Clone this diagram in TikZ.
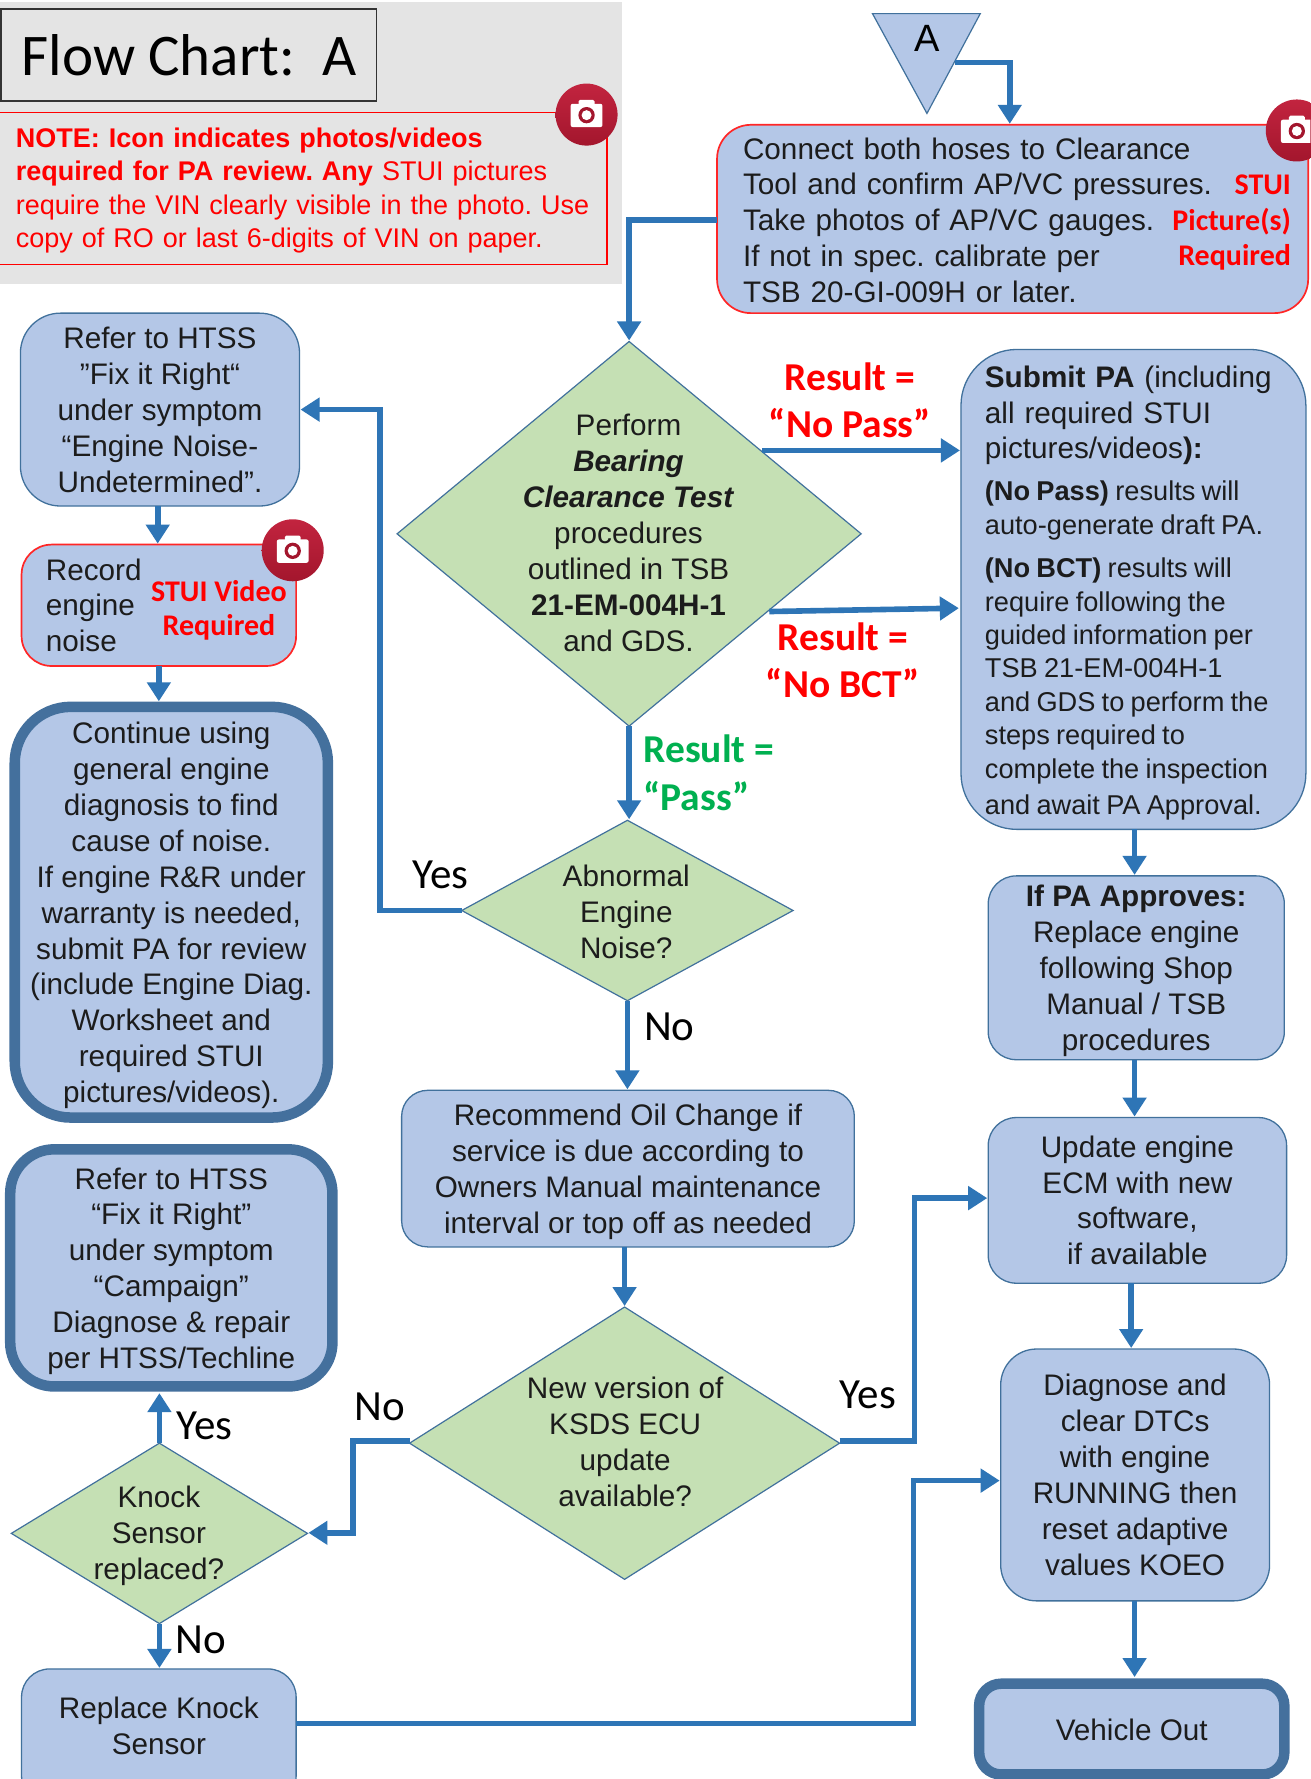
\documentclass[tikz,border=0pt]{standalone}
\usepackage{fontspec}
\setmainfont{Liberation Sans}
\newfontfamily\calib{Carlito}
\usetikzlibrary{arrows.meta,shapes.geometric,calc}
\definecolor{boxfill}{HTML}{B4C7E7}
\definecolor{boxedge}{HTML}{41719C}
\definecolor{diafill}{HTML}{C5E0B4}
\definecolor{thickedge}{HTML}{44709D}
\definecolor{conn}{HTML}{2E75B6}
\definecolor{redtxt}{HTML}{FF0000}
\definecolor{greentxt}{HTML}{00B050}
\definecolor{greybg}{HTML}{E4E4E4}
\definecolor{camtop}{HTML}{C2243F}
\definecolor{cambot}{HTML}{A3162D}
\definecolor{inktxt}{HTML}{1C1C1C}
\newdimen\uu \uu=1.1342pt
\newcommand\bodyf{\frenchspacing\fontsize{29.7}{35.9}\selectfont}
\newcommand\smallf{\frenchspacing\fontsize{27.2}{33.4}\selectfont\spaceskip=0.23em}
\newcommand\notef{\frenchspacing\fontsize{27}{33.2}\selectfont}
\newcommand\nudge{\rule{0pt}{28pt}}
\newcommand\nudgelow{\rule{0pt}{24pt}}
\tikzset{
  x=1.1342pt,y=-1.1342pt,
  box/.style={draw=boxedge,line width=1.3pt,fill=boxfill,inner sep=0pt,outer sep=0pt,align=center,font=\bodyf,text=inktxt,rounded corners=#1},
  box/.default=28pt,
  redbox/.style={box=#1,draw=redtxt!85!white,line width=1.7pt},
  heavybox/.style={box=#1,draw=thickedge,line width=10.5pt},
  dia/.style={diamond,draw=boxedge,line width=1.2pt,fill=diafill,inner sep=0pt,outer sep=0pt},
  body/.style={inner sep=0pt,align=center,font=\bodyf,text=inktxt},
  arr/.style={draw=conn,line width=5.6pt,-{Triangle[width=23pt,length=19pt]},shorten >=1pt},
  redlab/.style={inner sep=0pt,font=\calib\bfseries\fontsize{39.5}{47.5}\selectfont,text=redtxt,align=center},
  greenlab/.style={inner sep=0pt,font=\calib\bfseries\fontsize{39.5}{47.5}\selectfont,text=greentxt,align=left},
  reqlab/.style={inner sep=0pt,font=\calib\bfseries\fontsize{30}{35.8}\selectfont,text=redtxt},
  yn/.style={inner sep=0pt,font=\calib\fontsize{43}{48}\selectfont,text=black},
  camdisc/.style={circle,minimum size=62pt,inner sep=0pt,top color=camtop,bottom color=cambot},
}
% #1 style, #2 name, #3 x1, #4 y1, #5 x2, #6 y2, #7 text
\newcommand\bx[7]{\node[#1,minimum width={(#5-#3)*\uu},minimum height={(#6-#4)*\uu}] (#2) at ({(#3+#5)/2},{(#4+#6)/2}) {#7};}
% #1 name, #2 x, #3 y
\newcommand\cam[3]{%
  \node[camdisc] (#1) at (#2,#3) {};
  \begin{scope}[shift={(#2,#3)}]
    \fill[white,rounded corners=2pt] (-14,-9.5) rectangle (14,11);
    \fill[white,rounded corners=1.5pt] (-7,-13) rectangle (7,-8);
    \fill[cambot] (0,0.5) circle[radius=7.2];
    \fill[white] (0,0.5) circle[radius=4.4];
  \end{scope}}
\begin{document}
\begin{tikzpicture}
\clip (0,0) rectangle (1155,1568);
\fill[white] (0,0) rectangle (1155,1568);
% header
\fill[greybg] (0,2) rectangle (548,250);
\bx{draw=black!80,line width=1.6pt,inner sep=0pt,outer sep=0pt,font=\calib\fontsize{59}{66}\selectfont,text=black}{title}{1}{8}{332}{89}{Flow Chart:\ \ A}
\bx{draw=redtxt,line width=1.6pt,inner sep=0pt,outer sep=0pt,align=left,text width=574pt,text=redtxt,font=\notef}{note}{-1}{99}{535}{233}{\nudgelow\textbf{NOTE: Icon indicates photos/videos}\\\textbf{required for PA review. Any} STUI pictures\\require the VIN clearly visible in the photo. Use\\copy of RO or last 6-digits of VIN on paper.}
\cam{camnote}{517}{101}
% start triangle
\coordinate (tl) at (769,12);
\coordinate (tr) at (864,12);
\coordinate (tb) at (817,100);
\coordinate (te) at (842,55);
\fill[boxfill,draw=boxedge,line width=1.2pt] (tl) -- (tr) -- (tb) -- cycle;
\node[inner sep=0pt,font=\fontsize{38}{40}\selectfont,text=black] (tA) at (817,34) {A};
% connect box
\bx{redbox=34pt,text width=539pt,align=left}{conn1}{632}{110}{1153}{276}{\nudgelow Connect both hoses to Clearance\\Tool and confirm AP/VC pressures.\\Take photos of AP/VC gauges.\\If not in spec. calibrate per\\TSB 20-GI-009H or later.}
\node[reqlab,anchor=east] (req1) at (1138,163) {STUI};
\node[reqlab,anchor=east] (req2) at (1138,195) {Picture(s)};
\node[reqlab,anchor=east] (req3) at (1138,227) {Required};
\cam{camconn}{1143}{115}
% diamond 1
\bx{dia}{d1}{350}{301}{759}{640}{}
\node[body] (d1t) at (554,469.5) {Perform\\\textbf{\textit{Bearing}}\\\textbf{\textit{Clearance Test}}\\procedures\\outlined in TSB\\\textbf{21-EM-004H-1}\\and GDS.};
\node[redlab] (lnp) at (749,353) {Result =\\“No Pass”};
\node[redlab] (lnb) at (743,582) {Result =\\“No BCT”};
\node[greenlab,anchor=west] (lps) at (567,681) {Result =\\“Pass”};
% submit box
\bx{box=56pt,text width=297pt,align=left}{sub}{847}{308}{1151}{731}{\nudge\textbf{Submit PA} (including\\all required STUI\\pictures/videos\textbf{):}\\[8.5pt]\smallf\textbf{(No Pass)} results will\\auto-generate draft PA.\\[10pt]\textbf{(No BCT)} results will\\require following the\\guided information per\\TSB 21-EM-004H-1\\\mbox{and GDS to perform the}\\steps required to\\complete the inspection\\and await PA Approval.}
% diamond 2
\bx{dia}{d2}{407}{723}{699}{882}{}
\node[body] (d2t) at (552,804) {Abnormal\\Engine\\Noise?};
\node[yn] (y1) at (388,771) {Yes};
\node[yn] (n1) at (590,905) {No};
% left column
\bx{box=40pt}{r1}{18}{276}{264}{446}{Refer to HTSS\\"Fix it Right“\\under symptom\\“Engine Noise-\\Undetermined”.}
\bx{redbox=30pt,text width=226pt,align=left}{rec}{19}{480}{261}{587}{Record\\engine\\noise}
\node[reqlab] (req4) at (193,521) {STUI Video};
\node[reqlab] (req5) at (193,553) {Required};
\cam{camrec}{258}{485}
\bx{heavybox=56pt}{cont}{13}{623}{289}{985}{\nudge Continue using\\general engine\\diagnosis to find\\cause of noise.\\If engine R\&R under\\warranty is needed,\\submit PA for review\\(include Engine Diag.\\Worksheet and\\required STUI\\pictures/videos).}
\bx{heavybox=44pt}{r2}{9}{1013}{293}{1222}{\nudge Refer to HTSS\\“Fix it Right”\\under symptom\\“Campaign”\\Diagnose \& repair\\per HTSS/Techline}
% centre
\bx{box=26pt}{oil}{354}{961}{753}{1099}{\nudge Recommend Oil Change if\\service is due according to\\Owners Manual maintenance\\interval or top off as needed}
\bx{dia}{d3}{361}{1152}{740}{1392}{}
\node[body] (d3t) at (551,1271) {New version of\\KSDS ECU\\update\\available?};
\node[yn] (y2) at (765,1229) {Yes};
\node[yn] (n2) at (335,1240) {No};
\bx{dia}{d4}{10}{1272}{271}{1431}{}
\node[body] (d4t) at (140,1353.5) {Knock\\Sensor\\replaced?};
\node[yn] (y3) at (180,1257) {Yes};
\node[yn] (n3) at (177,1445) {No};
\bx{box=28pt}{knock}{19}{1471}{261}{1590}{}
\node[body] (knockt) at (140,1521) {Replace Knock\\Sensor};
% right column
\bx{box=28pt}{pa}{871}{772}{1132}{934}{\nudge\textbf{If PA Approves:}\\Replace engine\\following Shop\\Manual / TSB\\procedures}
\bx{box=28pt}{ecm}{871}{985}{1134}{1131}{Update engine\\ECM with new\\software,\\if available}
\bx{box=36pt}{dtc}{882}{1189}{1119}{1411}{Diagnose and\\clear DTCs\\with engine\\RUNNING then\\reset adaptive\\values KOEO}
\bx{heavybox=22pt}{out}{863}{1484}{1132}{1564}{\nudgelow Vehicle Out}
% connectors
\coordinate (aTop) at (890,110);
\draw[arr] (te) -| (aTop);
\coordinate (c0) at (632,194);
\draw[arr] (c0) -| (d1.north);
\coordinate (npS) at (672,397);
\draw[arr] (npS) -- (npS -| sub.west);
\coordinate (nbS) at (678,539);
\coordinate (nbE) at (846,536);
\draw[arr] (nbS) -- (nbE);
\draw[arr] (d1.south) -- (d1.south |- d2.north);
\coordinate (c1) at (335,361);
\draw[arr] (d2.west) -| (c1) -- (r1.east |- c1);
\coordinate (r1rec) at (139,446);
\draw[arr] (r1rec) -- (r1rec |- rec.north);
\coordinate (reccont) at (140,587);
\draw[arr] (reccont) -- ($(reccont |- cont.north)+(0,-4)$);
\draw[arr] (d2.south) -- (d2.south |- oil.north);
\draw[arr] (d3.north |- oil.south) -- (d3.north);
\coordinate (c2) at (806,1056);
\coordinate (d3e) at (740,1270);
\draw[arr] (d3e) -| (c2) -- (ecm.west |- c2);
\coordinate (d3w) at (361,1270);
\coordinate (c3) at (311,1351);
\draw[arr] (d3w) -| (c3) -- (c3 -| d4.east);
\draw[arr] (d4.north) -- ($(d4.north |- r2.south)+(0,5)$);
\draw[arr] (d4.south) -- (d4.south |- knock.north);
\coordinate (c4) at (805,1305);
\coordinate (c5) at (261,1519);
\draw[arr] (c5) -| (c4) -- (dtc.west |- c4);
\coordinate (subpa) at (1000,731);
\draw[arr] (subpa) -- (subpa |- pa.north);
\coordinate (paecm) at (1000,934);
\draw[arr] (paecm) -- (paecm |- ecm.north);
\coordinate (ecmdtc) at (997,1131);
\draw[arr] (ecmdtc) -- (ecmdtc |- dtc.north);
\coordinate (dtcout) at (1000,1411);
\draw[arr] (dtcout) -- ($(dtcout |- out.north)+(0,-5)$);
\end{tikzpicture}
\end{document}
